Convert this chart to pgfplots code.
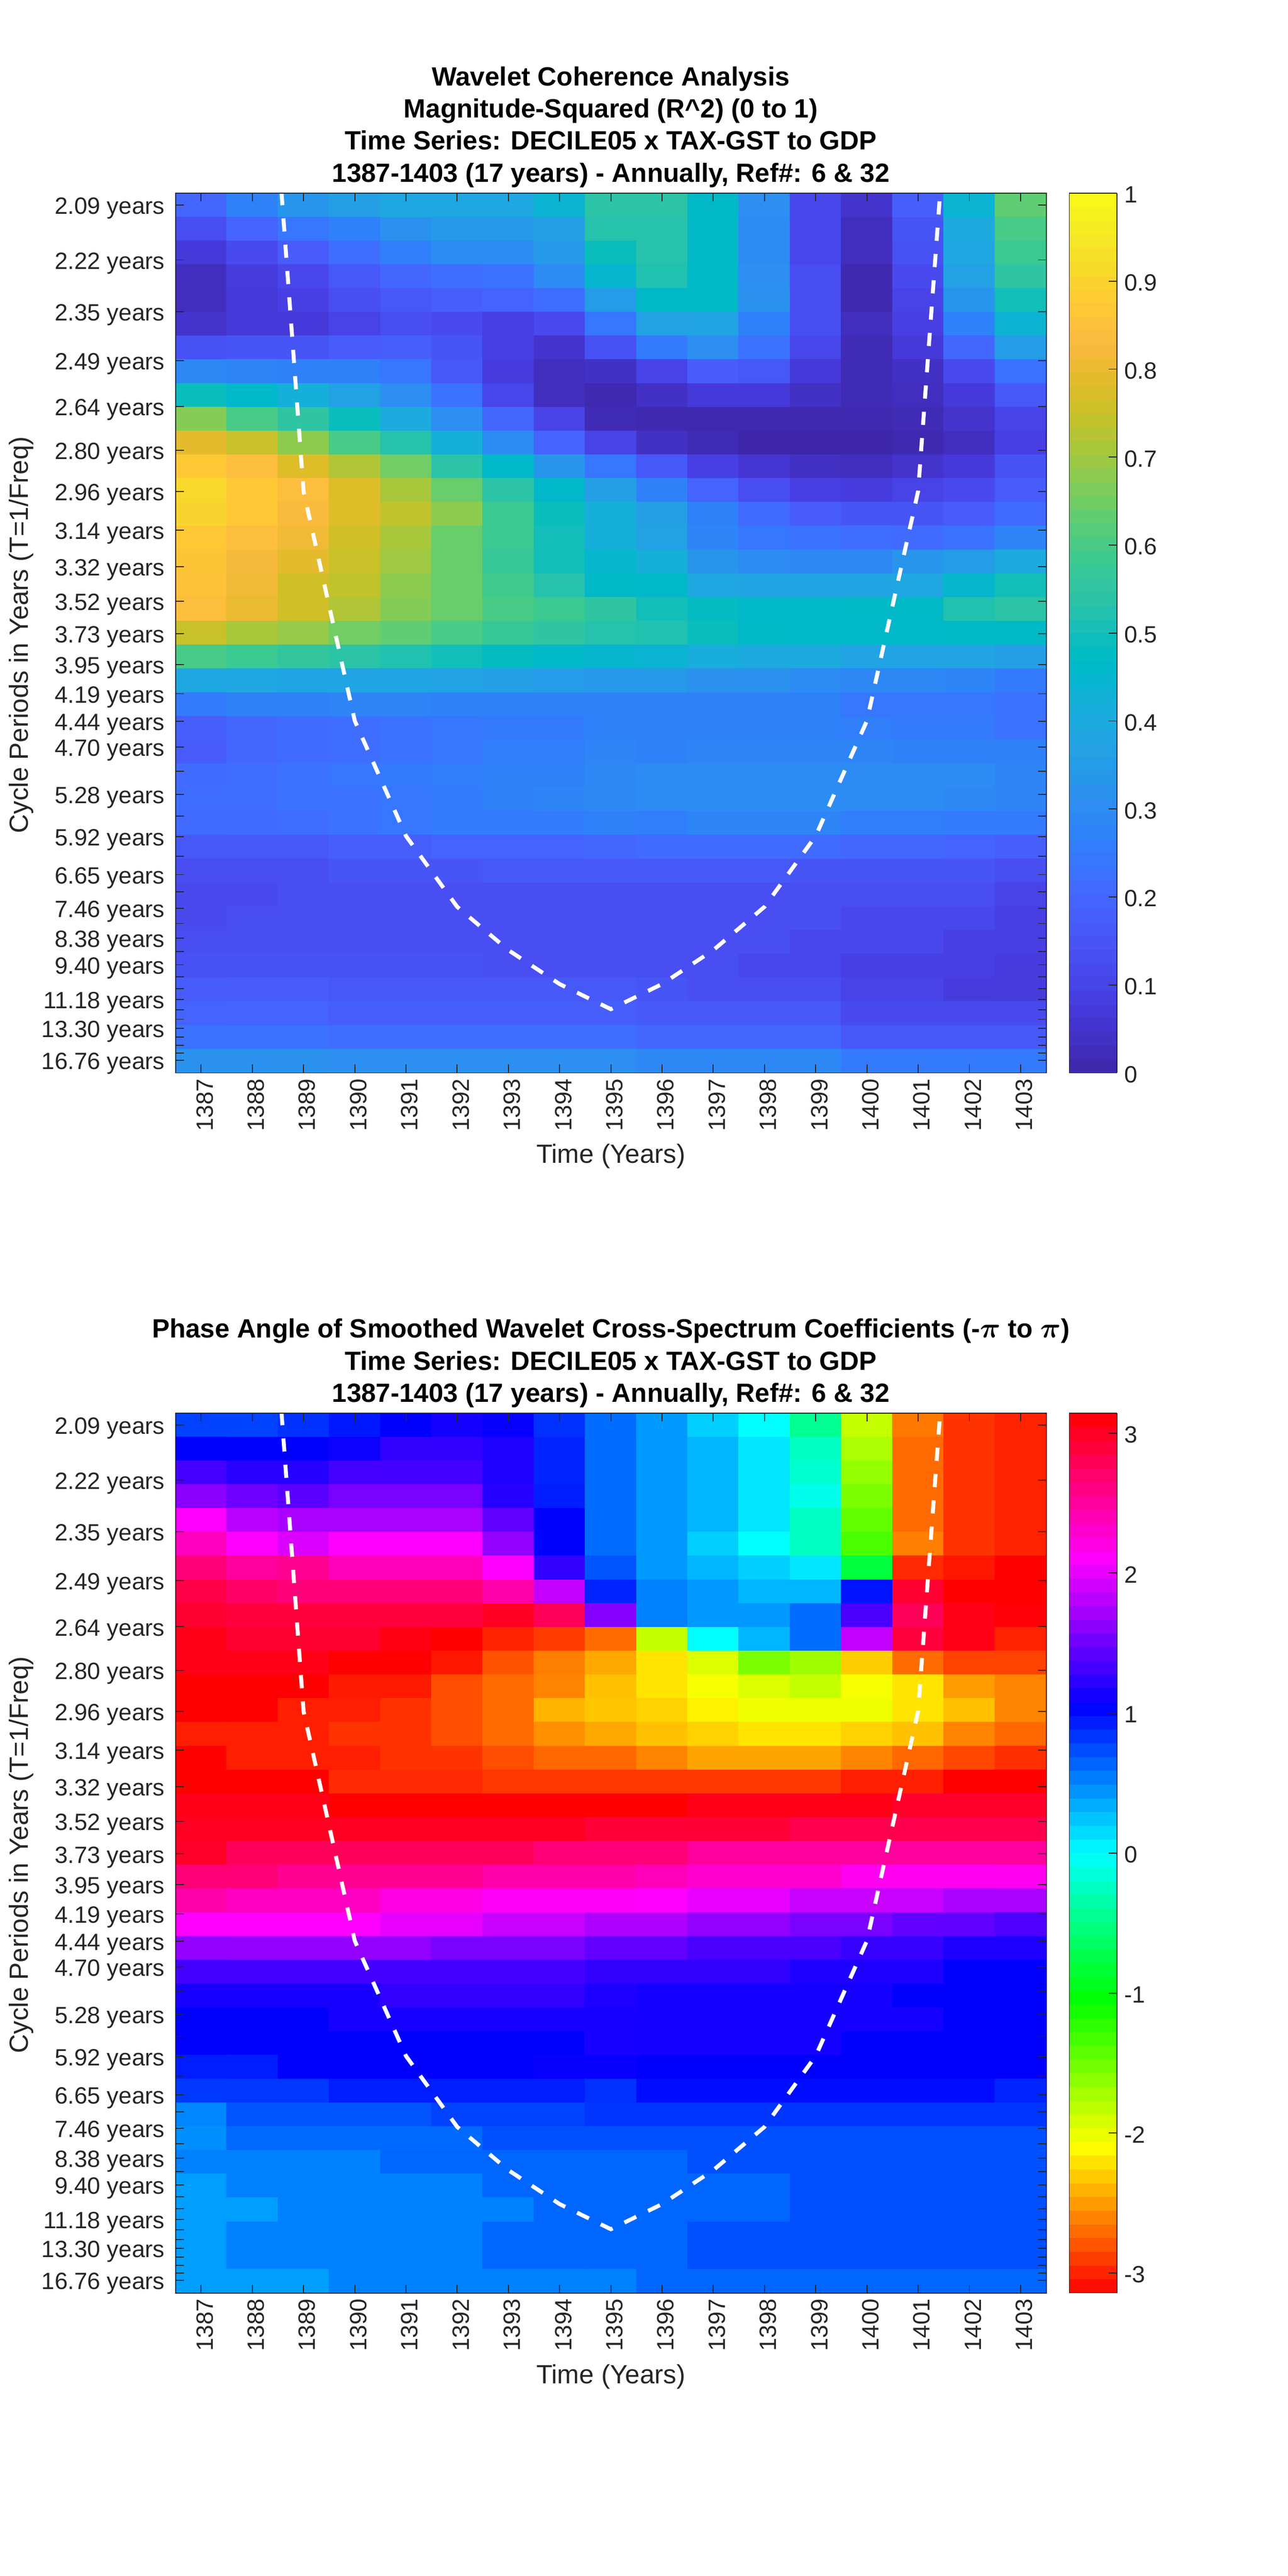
\documentclass[border=0pt]{standalone}
\usepackage{fontspec}
\setmainfont{Liberation Sans}
\usepackage{pgfplots}
\usepackage{pgfplotstable}
\pgfplotsset{compat=1.18}
\definecolor{axgray}{RGB}{38,38,38}

% coherence, one line per row of the picture (2.09 years at the top), 1387..1403
\pgfplotstableread[row sep=\\]{
z\\
.20\\.27\\.33\\.36\\.39\\.39\\.39\\.44\\.54\\.54\\.47\\.31\\.11\\.05\\.18\\.44\\.63\\
.13\\.19\\.24\\.27\\.32\\.34\\.34\\.36\\.53\\.53\\.47\\.30\\.11\\.03\\.15\\.40\\.60\\
.07\\.12\\.17\\.22\\.26\\.30\\.30\\.34\\.49\\.53\\.47\\.30\\.11\\.03\\.14\\.39\\.58\\
.03\\.08\\.11\\.16\\.20\\.22\\.23\\.30\\.45\\.52\\.47\\.31\\.13\\.01\\.12\\.37\\.55\\
.03\\.07\\.09\\.13\\.16\\.18\\.19\\.22\\.35\\.47\\.47\\.32\\.13\\.01\\.10\\.33\\.50\\
.05\\.07\\.07\\.10\\.13\\.12\\.09\\.12\\.24\\.37\\.38\\.27\\.13\\.03\\.09\\.27\\.44\\
.14\\.15\\.15\\.17\\.18\\.15\\.09\\.05\\.14\\.25\\.31\\.23\\.11\\.02\\.07\\.20\\.35\\
.29\\.28\\.27\\.27\\.24\\.16\\.08\\.03\\.04\\.10\\.17\\.16\\.07\\.02\\.04\\.12\\.23\\
.49\\.46\\.42\\.37\\.31\\.23\\.11\\.03\\.01\\.04\\.07\\.07\\.04\\.02\\.03\\.07\\.16\\
.67\\.60\\.55\\.49\\.40\\.31\\.20\\.10\\.02\\.01\\.01\\.01\\.01\\.01\\.02\\.05\\.10\\
.79\\.75\\.68\\.60\\.53\\.42\\.30\\.19\\.10\\.04\\.02\\.00\\.00\\.00\\.01\\.03\\.09\\
.87\\.84\\.78\\.72\\.65\\.54\\.46\\.33\\.24\\.16\\.09\\.06\\.04\\.03\\.05\\.07\\.14\\
.91\\.87\\.84\\.78\\.71\\.64\\.54\\.46\\.36\\.27\\.19\\.13\\.09\\.08\\.10\\.12\\.17\\
.90\\.87\\.83\\.78\\.74\\.68\\.58\\.49\\.42\\.36\\.27\\.21\\.17\\.15\\.15\\.17\\.21\\
.87\\.84\\.81\\.76\\.71\\.64\\.58\\.50\\.42\\.37\\.28\\.24\\.23\\.22\\.21\\.23\\.28\\
.86\\.82\\.79\\.75\\.70\\.64\\.57\\.50\\.45\\.42\\.33\\.30\\.29\\.29\\.33\\.35\\.40\\
.85\\.81\\.76\\.74\\.68\\.64\\.59\\.53\\.47\\.46\\.39\\.38\\.38\\.38\\.39\\.45\\.50\\
.84\\.80\\.76\\.72\\.67\\.64\\.60\\.58\\.55\\.50\\.48\\.46\\.46\\.47\\.47\\.52\\.54\\
.75\\.71\\.69\\.65\\.63\\.60\\.57\\.55\\.53\\.52\\.49\\.47\\.46\\.46\\.46\\.47\\.47\\
.60\\.58\\.56\\.54\\.52\\.50\\.48\\.46\\.45\\.44\\.41\\.40\\.40\\.38\\.38\\.38\\.36\\
.39\\.39\\.38\\.38\\.38\\.37\\.36\\.35\\.34\\.34\\.32\\.32\\.30\\.29\\.29\\.28\\.25\\
.25\\.27\\.27\\.28\\.28\\.27\\.27\\.27\\.27\\.27\\.27\\.27\\.27\\.24\\.24\\.24\\.23\\
.18\\.20\\.21\\.22\\.23\\.24\\.25\\.25\\.27\\.27\\.27\\.27\\.27\\.26\\.25\\.25\\.23\\
.17\\.20\\.21\\.22\\.23\\.24\\.26\\.26\\.28\\.27\\.28\\.28\\.28\\.28\\.27\\.27\\.27\\
.21\\.22\\.23\\.24\\.25\\.26\\.27\\.27\\.29\\.30\\.30\\.30\\.30\\.30\\.30\\.30\\.28\\
.22\\.22\\.23\\.23\\.24\\.25\\.27\\.28\\.29\\.30\\.30\\.30\\.30\\.30\\.30\\.29\\.28\\
.21\\.21\\.22\\.23\\.24\\.25\\.25\\.25\\.27\\.26\\.28\\.28\\.28\\.26\\.26\\.25\\.25\\
.16\\.16\\.16\\.18\\.18\\.19\\.19\\.19\\.20\\.21\\.21\\.21\\.21\\.20\\.20\\.19\\.18\\
.13\\.13\\.13\\.15\\.15\\.15\\.16\\.16\\.16\\.16\\.16\\.16\\.15\\.15\\.15\\.15\\.13\\
.12\\.12\\.13\\.13\\.13\\.13\\.13\\.13\\.13\\.13\\.13\\.13\\.13\\.13\\.13\\.13\\.10\\
.12\\.13\\.13\\.13\\.13\\.13\\.13\\.13\\.13\\.13\\.13\\.13\\.13\\.11\\.11\\.11\\.09\\
.13\\.13\\.13\\.13\\.13\\.13\\.13\\.13\\.13\\.13\\.13\\.13\\.11\\.11\\.11\\.09\\.09\\
.14\\.14\\.14\\.14\\.14\\.14\\.13\\.13\\.13\\.13\\.13\\.11\\.11\\.09\\.09\\.09\\.08\\
.17\\.17\\.17\\.16\\.16\\.16\\.16\\.16\\.16\\.15\\.13\\.13\\.13\\.10\\.10\\.08\\.08\\
.19\\.19\\.19\\.18\\.18\\.18\\.18\\.18\\.18\\.16\\.16\\.16\\.16\\.12\\.12\\.12\\.12\\
.23\\.23\\.23\\.22\\.22\\.22\\.22\\.22\\.22\\.20\\.20\\.20\\.20\\.16\\.16\\.16\\.16\\
.32\\.32\\.32\\.31\\.31\\.31\\.31\\.31\\.31\\.29\\.29\\.29\\.29\\.25\\.25\\.25\\.25\\
}\coherence

% phase angle in radians, same layout
\pgfplotstableread[row sep=\\]{
z\\
.78\\.78\\.85\\.95\\1.05\\1.13\\1.08\\.85\\.60\\.42\\.20\\0\\-.45\\-1.85\\-2.65\\-2.93\\-3.0\\
1.05\\1.05\\1.05\\1.10\\1.25\\1.25\\1.18\\.90\\.60\\.42\\.30\\.10\\-.25\\-1.75\\-2.7\\-2.93\\-3.0\\
1.33\\1.22\\1.20\\1.33\\1.33\\1.33\\1.18\\.90\\.60\\.42\\.30\\.10\\-.20\\-1.65\\-2.7\\-2.93\\-3.0\\
1.62\\1.50\\1.42\\1.55\\1.55\\1.55\\1.20\\.93\\.60\\.42\\.30\\.10\\-.08\\-1.55\\-2.7\\-2.93\\-3.0\\
2.09\\1.82\\1.75\\1.75\\1.75\\1.75\\1.45\\1.05\\.60\\.42\\.30\\.10\\-.25\\-1.45\\-2.7\\-2.93\\-3.0\\
2.36\\2.09\\1.95\\2.09\\2.09\\2.09\\1.65\\1.05\\.60\\.42\\.20\\0\\-.25\\-1.35\\-2.62\\-2.93\\-3.0\\
2.65\\2.50\\2.55\\2.38\\2.38\\2.38\\2.09\\1.25\\.70\\.42\\.30\\.20\\.10\\-.80\\-2.97\\-3.05\\-3.14\\
2.85\\2.72\\2.65\\2.65\\2.65\\2.65\\2.45\\1.85\\.90\\.52\\.42\\.30\\.30\\.97\\2.95\\-3.14\\-3.14\\
2.95\\2.90\\2.90\\2.90\\2.90\\2.90\\3.0\\2.78\\1.60\\.52\\.42\\.42\\.60\\1.35\\2.78\\3.05\\3.12\\
3.05\\2.95\\2.95\\2.95\\3.07\\3.14\\-3.0\\-2.9\\-2.7\\-1.85\\0\\.30\\.60\\1.85\\2.90\\3.05\\-3.0\\
3.05\\3.05\\3.05\\3.14\\3.14\\-3.05\\-2.8\\-2.62\\-2.45\\-2.2\\-1.95\\-1.55\\-1.7\\-2.3\\-2.7\\-2.87\\-2.87\\
-3.14\\-3.14\\-3.14\\-3.03\\-3.03\\-2.82\\-2.7\\-2.6\\-2.35\\-2.2\\-2.06\\-1.95\\-1.85\\-2.06\\-2.2\\-2.5\\-2.6\\
-3.14\\-3.14\\-3.02\\-3.02\\-2.93\\-2.82\\-2.7\\-2.4\\-2.33\\-2.28\\-2.15\\-2.03\\-2.03\\-2.03\\-2.2\\-2.35\\-2.6\\
-3.02\\-3.02\\-3.02\\-2.93\\-2.93\\-2.82\\-2.7\\-2.55\\-2.45\\-2.35\\-2.28\\-2.2\\-2.2\\-2.28\\-2.35\\-2.6\\-2.72\\
-3.14\\-3.02\\-3.02\\-3.02\\-2.93\\-2.93\\-2.82\\-2.72\\-2.72\\-2.6\\-2.47\\-2.47\\-2.47\\-2.6\\-2.72\\-2.85\\-2.95\\
-3.14\\-3.14\\-3.14\\-2.97\\-2.97\\-2.97\\-2.92\\-2.92\\-2.92\\-2.92\\-2.92\\-2.92\\-2.92\\-3.02\\-3.02\\-3.14\\-3.14\\
3.05\\3.05\\3.05\\3.14\\3.14\\3.14\\3.14\\3.14\\3.14\\3.14\\3.05\\3.05\\3.05\\3.05\\2.97\\2.97\\2.97\\
3.0\\3.0\\3.0\\3.0\\3.0\\3.0\\3.0\\3.0\\2.92\\2.92\\2.92\\2.92\\2.82\\2.82\\2.82\\2.82\\2.82\\
2.98\\2.78\\2.78\\2.78\\2.78\\2.78\\2.78\\2.66\\2.66\\2.66\\2.50\\2.50\\2.50\\2.50\\2.50\\2.50\\2.50\\
2.66\\2.66\\2.55\\2.55\\2.55\\2.55\\2.45\\2.45\\2.45\\2.38\\2.30\\2.30\\2.30\\2.16\\2.16\\2.16\\2.16\\
2.45\\2.35\\2.35\\2.35\\2.20\\2.20\\2.13\\2.13\\2.13\\2.09\\2.0\\2.0\\1.87\\1.87\\1.87\\1.75\\1.75\\
2.09\\2.09\\2.09\\2.09\\2.0\\2.0\\1.87\\1.87\\1.76\\1.76\\1.65\\1.65\\1.55\\1.55\\1.45\\1.45\\1.37\\
1.65\\1.65\\1.65\\1.65\\1.65\\1.55\\1.55\\1.55\\1.45\\1.45\\1.35\\1.35\\1.35\\1.27\\1.27\\1.17\\1.17\\
1.33\\1.33\\1.33\\1.33\\1.33\\1.33\\1.33\\1.33\\1.25\\1.25\\1.25\\1.25\\1.17\\1.17\\1.17\\1.05\\1.05\\
1.15\\1.15\\1.15\\1.15\\1.25\\1.25\\1.25\\1.25\\1.17\\1.13\\1.13\\1.13\\1.13\\1.13\\1.05\\1.05\\1.05\\
1.05\\1.05\\1.05\\1.15\\1.15\\1.15\\1.15\\1.15\\1.15\\1.13\\1.13\\1.13\\1.13\\1.13\\1.13\\1.05\\1.05\\
1.05\\1.05\\1.05\\1.05\\1.05\\1.05\\1.05\\1.05\\1.15\\1.13\\1.13\\1.13\\1.13\\1.05\\1.05\\1.05\\1.05\\
.93\\.93\\1.05\\1.05\\1.05\\1.05\\1.05\\1.08\\1.08\\1.05\\1.05\\1.05\\1.05\\1.05\\1.05\\1.05\\1.05\\
.82\\.82\\.82\\.93\\.93\\.93\\.93\\.93\\.85\\1.0\\1.0\\1.0\\1.0\\1.0\\1.0\\1.0\\.90\\
.50\\.70\\.70\\.70\\.70\\.78\\.78\\.78\\.83\\.83\\.83\\.83\\.83\\.83\\.83\\.83\\.83\\
.46\\.62\\.62\\.62\\.62\\.62\\.72\\.72\\.72\\.72\\.72\\.72\\.72\\.72\\.72\\.72\\.72\\
.52\\.52\\.52\\.52\\.63\\.63\\.63\\.63\\.63\\.63\\.72\\.72\\.72\\.72\\.72\\.72\\.72\\
.40\\.52\\.52\\.52\\.52\\.52\\.63\\.63\\.63\\.63\\.63\\.63\\.72\\.72\\.72\\.72\\.72\\
.40\\.40\\.52\\.52\\.52\\.52\\.52\\.63\\.63\\.63\\.63\\.63\\.72\\.72\\.72\\.72\\.72\\
.40\\.52\\.52\\.52\\.52\\.52\\.63\\.63\\.63\\.63\\.72\\.72\\.72\\.72\\.72\\.72\\.72\\
.40\\.52\\.52\\.52\\.52\\.52\\.63\\.63\\.63\\.63\\.72\\.72\\.72\\.72\\.72\\.72\\.72\\
.40\\.40\\.40\\.52\\.52\\.52\\.52\\.52\\.52\\.63\\.63\\.63\\.63\\.63\\.63\\.63\\.63\\
}\phaseangle

\pgfplotsset{
  /pgf/number format/assume math mode=true,
  /pgf/number format/1000 sep={},
  colormap={parula}{
    rgb=(0.2422,0.1504,0.6603) rgb=(0.2504,0.1650,0.7076) rgb=(0.2578,0.1818,0.7511) rgb=(0.2647,0.1978,0.7952)
    rgb=(0.2706,0.2147,0.8364) rgb=(0.2751,0.2342,0.8710) rgb=(0.2783,0.2559,0.8991) rgb=(0.2803,0.2782,0.9221)
    rgb=(0.2813,0.3006,0.9414) rgb=(0.2810,0.3228,0.9579) rgb=(0.2795,0.3447,0.9717) rgb=(0.2760,0.3667,0.9829)
    rgb=(0.2699,0.3892,0.9906) rgb=(0.2602,0.4123,0.9952) rgb=(0.2440,0.4358,0.9988) rgb=(0.2206,0.4603,0.9973)
    rgb=(0.1963,0.4847,0.9892) rgb=(0.1834,0.5074,0.9798) rgb=(0.1786,0.5289,0.9682) rgb=(0.1764,0.5499,0.9520)
    rgb=(0.1687,0.5703,0.9359) rgb=(0.1540,0.5902,0.9218) rgb=(0.1460,0.6091,0.9079) rgb=(0.1380,0.6276,0.8973)
    rgb=(0.1248,0.6459,0.8883) rgb=(0.1113,0.6635,0.8763) rgb=(0.0952,0.6798,0.8598) rgb=(0.0689,0.6948,0.8394)
    rgb=(0.0297,0.7082,0.8163) rgb=(0.0036,0.7203,0.7917) rgb=(0.0067,0.7312,0.7660) rgb=(0.0433,0.7411,0.7394)
    rgb=(0.0964,0.7500,0.7120) rgb=(0.1408,0.7584,0.6842) rgb=(0.1717,0.7670,0.6554) rgb=(0.1938,0.7758,0.6251)
    rgb=(0.2161,0.7843,0.5923) rgb=(0.2470,0.7918,0.5567) rgb=(0.2906,0.7973,0.5188) rgb=(0.3406,0.8008,0.4789)
    rgb=(0.3909,0.8029,0.4354) rgb=(0.4456,0.8024,0.3909) rgb=(0.5044,0.7993,0.3480) rgb=(0.5616,0.7942,0.3045)
    rgb=(0.6174,0.7876,0.2612) rgb=(0.6720,0.7793,0.2227) rgb=(0.7242,0.7698,0.1910) rgb=(0.7738,0.7598,0.1646)
    rgb=(0.8203,0.7498,0.1535) rgb=(0.8634,0.7406,0.1596) rgb=(0.9035,0.7330,0.1774) rgb=(0.9393,0.7288,0.2100)
    rgb=(0.9728,0.7298,0.2394) rgb=(0.9956,0.7434,0.2371) rgb=(0.9970,0.7659,0.2199) rgb=(0.9952,0.7893,0.2028)
    rgb=(0.9892,0.8136,0.1885) rgb=(0.9786,0.8386,0.1766) rgb=(0.9676,0.8639,0.1643) rgb=(0.9610,0.8890,0.1537)
    rgb=(0.9597,0.9135,0.1423) rgb=(0.9628,0.9373,0.1265) rgb=(0.9691,0.9606,0.1064) rgb=(0.9769,0.9839,0.0805)
  },
  colormap={hsvflip}{
    rgb=(1,0,0) rgb=(1,1,0) rgb=(0,1,0) rgb=(0,1,1) rgb=(0,0,1) rgb=(1,0,1) rgb=(1,0,0)
  },
  tick label style={font=\fontsize{14.3}{17}\selectfont, color=axgray},
  wav/.style={
    scale only axis, width=528.25pt, height=533.75pt,
    xmin=1386.5, xmax=1403.5, ymin=0.0536, ymax=0.4843,
    axis on top,
    axis line style={color=axgray, line width=0.6pt},
    tick style={color=axgray, line width=0.6pt},
    tick align=inside, major tick length=5pt,
    xtick={1387,1388,...,1403},
    xticklabel style={rotate=90, anchor=east, yshift=-2.2pt},
    ytick={.4785,.45164,.42629,.40237,.37979,.35848,.33836,.31937,.30144,.28452,.26855,.25348,
           .23925,.22582,.21315,.20119,.18990,.17924,.16918,.15968,.15072,.14226,.13428,.12674,
           .11963,.11291,.10657,.10059,.09495,.08962,.08459,.07984,.07536,.07113,.06714,.06337,.05981},
    yticklabels={2.09 years,2.22 years,2.35 years,2.49 years,2.64 years,2.80 years,2.96 years,3.14 years,
      3.32 years,3.52 years,3.73 years,3.95 years,4.19 years,4.44 years,4.70 years,{},5.28 years,{},
      5.92 years,{},6.65 years,{},7.46 years,{},8.38 years,{},9.40 years,{},{},11.18 years,{},{},
      13.30 years,{},{},{},16.76 years},
    yticklabel style={xshift=-3pt, yshift=-2pt},
    xlabel={Time (Years)},
    ylabel={Cycle Periods in Years (T=1/Freq)},
    label style={font=\fontsize{16}{19}\selectfont, color=axgray},
    xlabel style={at={(axis description cs:0.5,-0.095)}, anchor=center},
    ylabel style={at={(axis description cs:-0.177,0.498)}, anchor=center},
    title style={at={(axis description cs:0.5,1)}, anchor=south, align=center, inner sep=0pt, yshift=-2.75pt,
      font=\fontsize{16}{19.5}\selectfont\bfseries\boldmath},
    colorbar sampled,
  },
  cbar/.style={
    samples=65,
    at={(parent axis.north east)}, anchor=north west, xshift=5.5pt,
    width=29pt, height=533.75pt,
    axis on top,
    axis line style={color=axgray, line width=0.6pt},
    tick style={color=axgray, line width=0.6pt},
    tick align=inside, major tick length=5pt,
    ytick pos=right, yticklabel pos=right,
    yticklabel style={xshift=0.8pt, yshift=-1pt},
  },
  coi/.style={white, line width=2.4pt, dash pattern=on 8pt off 8pt, forget plot},
}

\begin{document}
\begin{tikzpicture}
\useasboundingbox (0,0) rectangle (781.25pt,1563pt);

\begin{axis}[wav, at={(106.5pt,912pt)}, anchor=south west,
    title={Wavelet Coherence Analysis\\Magnitude-Squared (R\^{}2) (0 to 1)\\Time Series: DECILE05 x TAX-GST to GDP\\1387-1403 (17 years) - Annually, Ref\#: 6 \& 32},
    colormap name=parula, point meta min=0, point meta max=1,
    colorbar style={cbar, ytick={0,0.1,...,1}},
]
\addplot[matrix plot*, mesh/cols=17, point meta=\thisrow{z}]
  table[x index=0, y index=0, x expr={1387+floor(mod(\coordindex+0.5,17))}, y expr={0.47848-0.011641*floor((\coordindex+0.5)/17)}] {\coherence};
\addplot[coi] coordinates {(1388,0.678) (1389,0.3384) (1390,0.2260) (1391,0.1696) (1392,0.1349) (1393,0.1137) (1394,0.0971) (1395,0.0848)
  (1396,0.0971) (1397,0.1137) (1398,0.1349) (1399,0.1696) (1400,0.2260) (1401,0.3384) (1402,0.678)};
\end{axis}

\begin{axis}[wav, at={(106.5pt,171.75pt)}, anchor=south west,
    title={Phase Angle of Smoothed Wavelet Cross-Spectrum Coefficients (-$\pi$ to $\pi$)\\Time Series: DECILE05 x TAX-GST to GDP\\1387-1403 (17 years) - Annually, Ref\#: 6 \& 32},
    colormap name=hsvflip, point meta min=-3.1416, point meta max=3.1416,
    colorbar style={cbar, ytick={-3,-2,-1,0,1,2,3}},
]
\addplot[matrix plot*, mesh/cols=17, point meta=\thisrow{z}]
  table[x index=0, y index=0, x expr={1387+floor(mod(\coordindex+0.5,17))}, y expr={0.47848-0.011641*floor((\coordindex+0.5)/17)}] {\phaseangle};
\addplot[coi] coordinates {(1388,0.678) (1389,0.3384) (1390,0.2260) (1391,0.1696) (1392,0.1349) (1393,0.1137) (1394,0.0971) (1395,0.0848)
  (1396,0.0971) (1397,0.1137) (1398,0.1349) (1399,0.1696) (1400,0.2260) (1401,0.3384) (1402,0.678)};
\end{axis}
\end{tikzpicture}
\end{document}
